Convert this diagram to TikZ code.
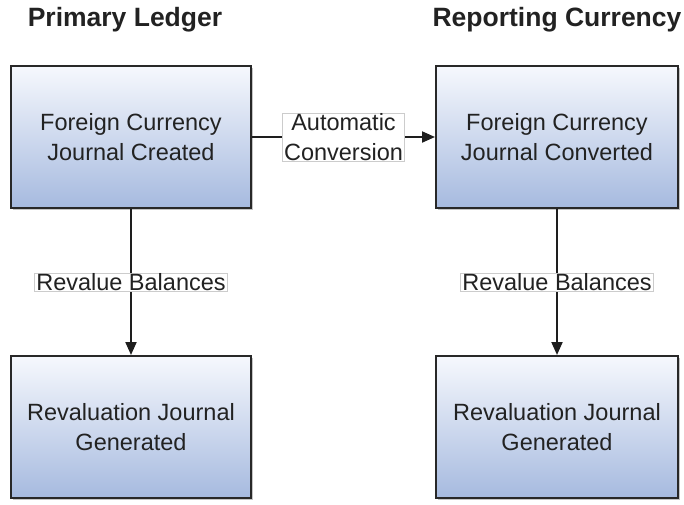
\documentclass[tikz,border=0pt]{standalone}
\usepackage{fontspec}
\setmainfont{Liberation Sans}
\usetikzlibrary{arrows.meta,shadows}
\definecolor{boxtop}{RGB}{246,248,253}
\definecolor{boxbot}{RGB}{166,186,223}
\definecolor{txt}{RGB}{34,34,34}
\tikzset{
  stepbox/.style={draw={rgb,255:red,40;green,40;blue,40}, line width=2pt,
    top color=boxtop, bottom color=boxbot, minimum width=240pt, minimum height=142pt,
    align=center, text=txt, font=\fontsize{23.5}{30}\selectfont,
    drop shadow={shadow xshift=2pt, shadow yshift=-2pt, fill=black!45, opacity=0.5}},
  title/.style={font=\bfseries\fontsize{26.5}{30}\selectfont, text=txt},
  lbl/.style={fill=white, draw=black!20, line width=0.6pt, align=center, text=txt,
    font=\fontsize{23.5}{30}\selectfont, inner xsep=1.5pt, inner ysep=0.5pt},
  conn/.style={line width=2pt, draw={rgb,255:red,30;green,30;blue,30},
    -{Triangle[length=13pt,width=11pt]}}
}
\begin{document}
\begin{tikzpicture}[x=1pt,y=1pt]
\useasboundingbox (0,0) rectangle (684,-504);
\node[title] (t1) at (125,-20) {Primary Ledger};
\node[title] (t2) at (557,-20) {Reporting Currency};
\node[stepbox] (a) at (131,-137) {Foreign Currency\\Journal Created};
\node[stepbox, minimum width=242pt] (b) at (557,-137) {Foreign Currency\\Journal Converted};
\node[stepbox] (c) at (131,-427) {Revaluation Journal\\Generated};
\node[stepbox, minimum width=242pt] (d) at (557,-427) {Revaluation Journal\\Generated};
\draw[conn] (a) -- node[lbl] {Automatic\\Conversion} (b);
\draw[conn] (a) -- node[lbl] {Revalue Balances} (c);
\draw[conn] (b) -- node[lbl] {Revalue Balances} (d);
\end{tikzpicture}
\end{document}
